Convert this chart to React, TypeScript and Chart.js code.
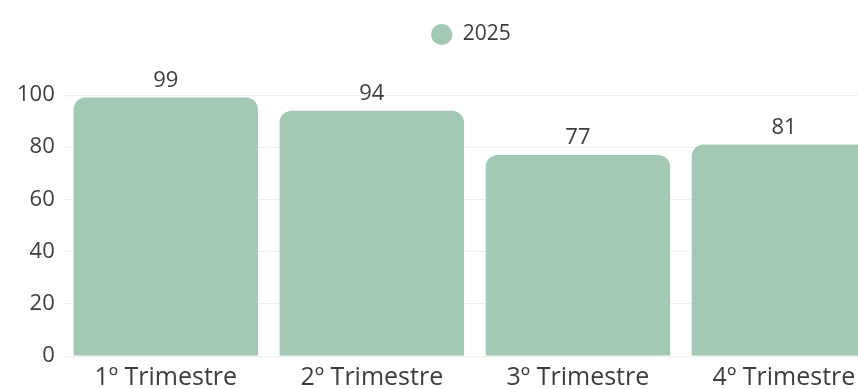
import React, { useEffect, useRef } from "react";
import { Chart, registerables } from "chart.js";

Chart.register(...registerables);

const categories = ["1º Trimestre", "2º Trimestre", "3º Trimestre", "4º Trimestre"];
const seriesLabel = "2025";
const values2025 = [99, 94, 77, 81];
const yTicks = [0, 20, 40, 60, 80, 100];

const BAR_COLOR = "#a3c8b4";
const TEXT_COLOR = "#3d3d3d";
const FONT = "'Open Sans', sans-serif";
const LEGEND_FS = 21;
const YTICK_FS = 22;
const XTICK_FS = 25;
const VALUE_FS = 22;

const valueLabels = {
  id: "valueLabels",
  afterDatasetsDraw(chart: any) {
    const ctx = chart.ctx;
    ctx.save();
    ctx.font = `${VALUE_FS}px ${FONT}`;
    ctx.fillStyle = TEXT_COLOR;
    ctx.textAlign = "center";
    ctx.textBaseline = "alphabetic";
    chart.data.datasets.forEach((ds: any, i: number) => {
      const meta = chart.getDatasetMeta(i);
      meta.data.forEach((el: any, j: number) => {
        ctx.fillText(String(ds.data[j]), el.x, el.y - 11);
      });
    });
    ctx.restore();
  },
};

const legendSpacer = {
  id: "legendSpacer",
  beforeInit(chart: any) {
    const legend = chart.legend;
    if (!legend) return;
    const orig = legend.fit;
    legend.fit = function () {
      orig.bind(legend)();
      this.height += 40;
    };
  },
};

export default function App() {
  const ref = useRef<HTMLCanvasElement | null>(null);
  useEffect(() => {
    document.body.style.margin = "0";
    document.body.style.overflow = "hidden";
    let chart: Chart | null = null;
    let cancelled = false;
    const make = () => {
      if (cancelled || !ref.current) return;
      chart = new Chart(ref.current, {
        type: "bar",
        data: {
          labels: categories,
          datasets: [
            {
              label: seriesLabel,
              data: values2025,
              backgroundColor: BAR_COLOR,
              borderColor: BAR_COLOR,
              borderWidth: 0,
              borderRadius: 12,
              borderSkipped: "start",
              barPercentage: 0.895,
              categoryPercentage: 1,
            },
          ],
        },
        options: {
          animation: false,
          responsive: true,
          maintainAspectRatio: false,
          devicePixelRatio: 1,
          layout: { padding: { left: 9, right: 0, top: 14, bottom: 0 } },
          plugins: {
            legend: {
              display: true,
              position: "top",
              labels: {
                usePointStyle: true,
                pointStyle: "circle",
                boxHeight: 15,
                color: TEXT_COLOR,
                font: { family: FONT, size: LEGEND_FS },
                padding: 10,
              },
            },
            tooltip: { enabled: false },
          },
          scales: {
            x: {
              grid: { display: false, drawTicks: false },
              border: { display: false },
              ticks: { color: TEXT_COLOR, font: { family: FONT, size: XTICK_FS }, padding: 7 },
            },
            y: {
              min: 0,
              max: 100,
              afterBuildTicks: (axis: any) => {
                axis.ticks = yTicks.map((v) => ({ value: v }));
              },
              grid: { color: "#eeeeee", drawTicks: false },
              border: { display: false },
              ticks: { color: TEXT_COLOR, font: { family: FONT, size: YTICK_FS }, padding: 8 },
            },
            y2: {
              position: "right",
              display: true,
              grid: { display: false },
              border: { display: false },
              ticks: { display: false },
              afterFit: (axis: any) => {
                axis.width = 46;
              },
            },
          },
        },
        plugins: [valueLabels, legendSpacer],
      });
    };
    const fonts: any = (document as any).fonts;
    if (fonts && fonts.load) {
      fonts.load(`${XTICK_FS}px 'Open Sans'`).then(make, make);
    } else {
      make();
    }
    return () => {
      cancelled = true;
      if (chart) chart.destroy();
    };
  }, []);

  return (
    <div style={{ position: "fixed", left: 0, top: 0, width: 858, height: 389, overflow: "hidden", background: "#fff" }}>
      <div style={{ position: "absolute", left: 0, top: 0, width: 933, height: 400 }}>
        <canvas ref={ref} />
      </div>
    </div>
  );
}
